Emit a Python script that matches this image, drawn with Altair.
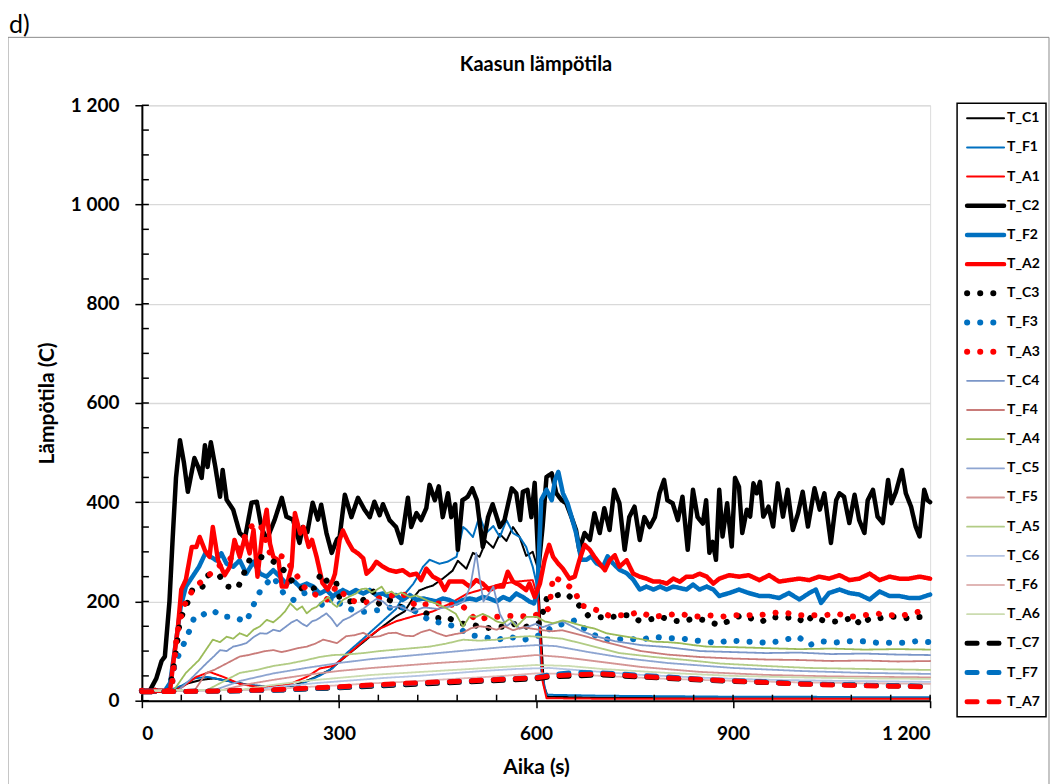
import altair as alt
import pandas as pd

SERIES = ["T_C1", "T_F1", "T_A1", "T_C2", "T_F2", "T_A2", "T_C3", "T_F3", "T_A3",
          "T_C4", "T_F4", "T_A4", "T_C5", "T_F5", "T_A5", "T_C6", "T_F6", "T_A6",
          "T_C7", "T_F7", "T_A7"]

COLORS = ["#000000", "#0070c0", "#ff0000", "#000000", "#0070c0", "#ff0000",
          "#000000", "#0070c0", "#ff0000",
          "#7b96c8", "#c97b79", "#9bbb59",
          "#8ea5d1", "#d49594", "#b2cc85",
          "#b4c4e3", "#e0b6b5", "#cbdcb0",
          "#000000", "#0070c0", "#ff0000"]

T_C1 = [(0, 20), (30, 20), (50, 22), (70, 35), (90, 42), (110, 45), (130, 40), (150, 35), (170, 30),
        (200, 28), (230, 30), (260, 45), (286, 62), (311, 90), (337, 118), (362, 145), (387, 170),
        (400, 180), (412, 205), (422, 222), (433, 228), (443, 232), (458, 246), (473, 262), (481, 282),
        (494, 266), (504, 298), (514, 290), (524, 322), (535, 308), (545, 336), (555, 322), (565, 350),
        (575, 330), (585, 292), (595, 300), (602, 270), (607, 150), (612, 30), (618, 8), (700, 6),
        (800, 5), (900, 5), (1000, 5), (1100, 5), (1200, 5)]
T_F1 = [(0, 20), (40, 20), (60, 30), (80, 45), (100, 48), (130, 40), (160, 32), (200, 28), (240, 32),
        (270, 50), (290, 65), (311, 95), (337, 125), (362, 155), (387, 185), (400, 215), (413, 235),
        (422, 255), (428, 270), (438, 284), (453, 276), (465, 280), (479, 290), (489, 350), (494, 345),
        (504, 330), (514, 372), (524, 338), (535, 352), (545, 330), (555, 364), (565, 338), (575, 330),
        (585, 310), (595, 270), (602, 230), (608, 60), (616, 12), (700, 10), (800, 9), (900, 8),
        (1000, 8), (1100, 7), (1200, 7)]
T_A1 = [(0, 20), (50, 20), (62, 28), (83, 48), (103, 58), (124, 48), (149, 34), (175, 28), (200, 28),
        (226, 34), (251, 48), (271, 65), (291, 70), (311, 90), (337, 120), (362, 145), (387, 160),
        (413, 170), (443, 180), (468, 195), (494, 215), (520, 225), (545, 235), (570, 240), (595, 243),
        (604, 200), (610, 40), (616, 5), (700, 4), (900, 4), (1200, 4)]
T_C2 = [(0, 20), (12, 20), (22, 45), (30, 80), (35, 89), (42, 200), (47, 330), (52, 450), (58, 525),
        (64, 480), (70, 421), (80, 489), (86, 470), (91, 449), (96, 515), (100, 471), (105, 521),
        (112, 470), (119, 411), (123, 465), (129, 405), (139, 385), (149, 338), (157, 328), (167, 399),
        (175, 401), (182, 350), (190, 324), (202, 364), (213, 409), (220, 371), (230, 365), (240, 318),
        (245, 350), (252, 340), (260, 399), (268, 365), (273, 395), (281, 338), (289, 298), (297, 325),
        (301, 330), (309, 415), (319, 370), (329, 409), (339, 385), (347, 370), (354, 401), (362, 374),
        (367, 396), (377, 364), (387, 350), (395, 318), (405, 409), (410, 350), (418, 378), (425, 364),
        (433, 388), (438, 435), (446, 404), (452, 432), (458, 370), (466, 418), (471, 370), (477, 396),
        (481, 304), (488, 404), (496, 411), (503, 428), (510, 404), (519, 310), (527, 370), (534, 396),
        (545, 350), (552, 364), (563, 428), (570, 418), (576, 364), (580, 421), (587, 425), (593, 370),
        (598, 439), (604, 270), (610, 350), (616, 451), (624, 458), (631, 418), (639, 404), (646, 398),
        (654, 370), (661, 344), (666, 304), (674, 338), (682, 324), (689, 378), (697, 338), (704, 388),
        (712, 344), (719, 425), (727, 398), (735, 304), (742, 370), (750, 391), (758, 324), (765, 370),
        (773, 350), (781, 370), (788, 418), (795, 445), (800, 404), (808, 398), (816, 364), (823, 411),
        (831, 304), (839, 425), (846, 370), (854, 357), (859, 404), (864, 298), (869, 320), (874, 284),
        (879, 425), (884, 331), (891, 398), (898, 311), (903, 449), (909, 431), (914, 338), (921, 385),
        (926, 371), (931, 438), (936, 418), (941, 441), (946, 371), (954, 391), (961, 351), (968, 438),
        (976, 371), (983, 425), (991, 344), (999, 378), (1006, 421), (1014, 351), (1024, 428),
        (1032, 385), (1039, 418), (1049, 318), (1057, 404), (1062, 418), (1069, 411), (1077, 358),
        (1085, 415), (1092, 364), (1100, 338), (1105, 404), (1113, 425), (1120, 371), (1128, 358),
        (1136, 445), (1141, 398), (1148, 421), (1157, 465), (1163, 418), (1171, 391), (1178, 351),
        (1184, 331), (1191, 425), (1196, 404), (1200, 400)]
T_F2 = [(0, 20), (35, 20), (43, 36), (53, 129), (59, 189), (67, 230), (77, 250), (87, 270), (97, 298),
        (105, 290), (113, 283), (121, 297), (129, 276), (139, 270), (149, 283), (159, 256), (170, 280),
        (180, 256), (190, 250), (200, 263), (210, 250), (220, 236), (230, 243), (240, 230), (251, 236),
        (261, 230), (271, 216), (281, 223), (291, 210), (296, 216), (306, 223), (316, 216), (326, 223),
        (337, 216), (347, 223), (357, 213), (367, 216), (377, 209), (387, 213), (397, 203), (408, 213),
        (418, 203), (428, 206), (438, 203), (448, 200), (458, 206), (468, 203), (479, 196), (489, 203),
        (499, 206), (509, 203), (519, 209), (529, 206), (540, 200), (550, 209), (560, 203), (570, 216),
        (580, 209), (590, 200), (597, 196), (602, 217), (608, 405), (616, 425), (624, 404), (629, 445),
        (634, 461), (641, 418), (648, 398), (654, 371), (661, 338), (669, 284), (677, 284), (684, 291),
        (692, 277), (702, 270), (709, 291), (717, 277), (727, 264), (738, 257), (748, 244), (758, 224),
        (768, 230), (779, 224), (789, 230), (799, 224), (809, 230), (819, 227), (829, 224), (839, 234),
        (849, 224), (860, 230), (870, 224), (879, 211), (894, 217), (909, 224), (924, 217), (940, 211),
        (955, 211), (970, 207), (985, 217), (1001, 204), (1016, 217), (1026, 224), (1034, 197),
        (1046, 217), (1062, 224), (1077, 217), (1092, 214), (1108, 204), (1123, 220), (1138, 211),
        (1153, 211), (1168, 207), (1184, 207), (1200, 214)]
T_A2 = [(0, 20), (43, 20), (47, 68), (55, 149), (60, 224), (67, 244), (76, 310), (83, 310), (88, 330),
        (96, 303), (103, 290), (108, 350), (116, 283), (126, 253), (134, 270), (141, 324), (149, 290),
        (157, 330), (164, 297), (170, 344), (176, 250), (184, 344), (190, 385), (195, 317), (200, 290),
        (208, 283), (213, 230), (220, 230), (228, 270), (233, 378), (241, 337), (246, 350), (254, 310),
        (259, 324), (266, 290), (275, 237), (283, 224), (291, 244), (294, 256), (301, 324), (306, 343),
        (314, 320), (321, 304), (329, 297), (337, 287), (342, 256), (350, 266), (357, 280), (367, 270),
        (377, 263), (387, 260), (397, 263), (408, 253), (418, 256), (425, 243), (433, 266), (443, 250),
        (453, 243), (461, 223), (468, 240), (478, 240), (489, 240), (499, 230), (509, 243), (519, 236),
        (529, 223), (540, 230), (550, 230), (557, 260), (565, 240), (575, 233), (585, 223), (590, 236),
        (598, 209), (606, 236), (613, 283), (620, 314), (626, 290), (634, 276), (641, 266), (651, 246),
        (659, 250), (666, 283), (674, 314), (682, 304), (689, 290), (697, 276), (705, 263), (712, 283),
        (720, 293), (727, 270), (738, 283), (748, 256), (758, 250), (768, 246), (779, 240), (789, 240),
        (799, 236), (809, 246), (819, 240), (829, 250), (839, 250), (849, 256), (860, 250), (870, 236),
        (879, 246), (894, 253), (909, 250), (924, 253), (940, 243), (955, 253), (970, 240), (985, 243),
        (1001, 246), (1016, 243), (1031, 250), (1046, 246), (1062, 253), (1077, 243), (1092, 246),
        (1108, 256), (1123, 243), (1138, 250), (1153, 246), (1168, 246), (1184, 250), (1200, 246)]
T_C3 = [(0, 20), (42, 20), (50, 80), (55, 130), (58, 163), (67, 189), (77, 224), (91, 225), (98, 250),
        (106, 257), (119, 250), (131, 230), (146, 227), (164, 284), (180, 290), (195, 284), (205, 277),
        (216, 263), (231, 237), (246, 224), (261, 224), (273, 257), (286, 233), (296, 237), (301, 206),
        (316, 200), (337, 203), (352, 220), (362, 193), (377, 203), (392, 190), (413, 183), (433, 176),
        (448, 166), (463, 169), (484, 156), (504, 153), (524, 146), (540, 149), (555, 149), (570, 156),
        (585, 149), (595, 156), (606, 156), (617, 209), (630, 212), (646, 216), (663, 196), (679, 172),
        (694, 169), (710, 166), (725, 172), (740, 172), (756, 162), (768, 162), (789, 169), (807, 162),
        (822, 159), (840, 166), (858, 162), (879, 152), (902, 166), (912, 172), (927, 166), (943, 159),
        (958, 169), (976, 166), (994, 169), (1012, 156), (1019, 169), (1037, 162), (1052, 159),
        (1070, 162), (1083, 169), (1095, 152), (1108, 166), (1123, 166), (1133, 169), (1148, 169),
        (1166, 166), (1187, 169), (1200, 168)]
T_F3 = [(0, 20), (45, 20), (48, 62), (55, 89), (62, 109), (73, 143), (80, 169), (88, 169), (100, 179),
        (108, 182), (123, 169), (139, 169), (159, 159), (172, 199), (182, 226), (200, 250), (216, 216),
        (231, 203), (246, 216), (261, 223), (276, 189), (291, 209), (306, 190), (321, 183), (337, 179),
        (362, 183), (387, 190), (413, 183), (438, 162), (458, 156), (479, 149), (499, 132), (519, 129),
        (540, 122), (560, 129), (580, 122), (606, 132), (626, 149), (659, 162), (677, 142), (697, 126),
        (717, 122), (738, 126), (758, 122), (779, 129), (799, 126), (819, 126), (839, 122), (860, 119),
        (876, 116), (894, 122), (914, 119), (932, 119), (955, 116), (976, 122), (999, 129), (1016, 112),
        (1034, 120), (1054, 117), (1075, 120), (1095, 120), (1118, 117), (1141, 117), (1164, 117),
        (1179, 120), (1200, 118)]
T_A3 = [(0, 20), (45, 20), (53, 129), (58, 163), (67, 200), (76, 220), (88, 237), (100, 250), (115, 270),
        (130, 280), (145, 300), (164, 350), (180, 357), (195, 297), (216, 290), (231, 263), (246, 230),
        (261, 216), (281, 203), (296, 230), (316, 203), (337, 196), (367, 209), (397, 216), (418, 190),
        (438, 196), (458, 196), (489, 190), (509, 162), (529, 169), (550, 169), (570, 172), (590, 169),
        (605, 175), (620, 186), (626, 250), (636, 243), (659, 223), (667, 193), (692, 183), (710, 172),
        (738, 172), (758, 179), (776, 169), (799, 172), (817, 176), (840, 169), (863, 172), (881, 169),
        (897, 172), (914, 172), (939, 172), (958, 176), (976, 179), (996, 172), (1021, 172), (1039, 172),
        (1057, 176), (1077, 169), (1098, 172), (1118, 176), (1136, 172), (1159, 172), (1182, 179),
        (1200, 172)]
T_C4 = [(0, 20), (55, 20), (73, 42), (98, 75), (110, 90), (119, 102), (129, 100), (139, 109), (149, 112),
        (159, 116), (170, 128), (180, 136), (190, 135), (200, 143), (210, 140), (220, 150), (228, 158),
        (236, 163), (244, 155), (251, 150), (259, 160), (266, 163), (274, 170), (281, 176), (289, 165),
        (297, 150), (306, 162), (316, 168), (326, 176), (337, 185), (347, 196), (357, 205), (367, 200),
        (377, 188), (392, 190), (410, 180), (430, 188), (450, 185), (470, 190), (490, 200), (500, 230),
        (509, 298), (515, 240), (520, 200), (528, 215), (535, 230), (545, 175), (555, 150), (565, 160),
        (575, 145), (590, 150), (600, 155), (610, 148), (625, 155), (640, 160), (655, 150), (670, 140),
        (690, 130), (720, 120), (760, 112), (800, 108), (850, 100), (900, 98), (950, 96), (1000, 97),
        (1050, 94), (1100, 95), (1150, 93), (1200, 92)]
T_F4 = [(0, 20), (80, 20), (98, 56), (110, 62), (123, 71), (136, 80), (149, 89), (162, 92), (175, 96),
        (188, 100), (200, 102), (213, 98), (226, 102), (238, 106), (251, 109), (264, 115), (276, 123),
        (286, 120), (297, 116), (311, 130), (324, 132), (337, 137), (350, 128), (362, 130), (375, 136),
        (387, 137), (400, 131), (413, 130), (425, 138), (438, 143), (450, 136), (463, 130), (476, 134),
        (489, 137), (501, 146), (514, 150), (527, 148), (540, 143), (552, 150), (565, 142), (580, 148),
        (595, 145), (610, 142), (625, 140), (640, 142), (660, 135), (680, 128), (700, 120), (730, 110),
        (760, 100), (800, 93), (850, 88), (900, 85), (950, 83), (1000, 82), (1050, 80), (1100, 81),
        (1150, 79), (1200, 80)]
T_A4 = [(0, 20), (48, 20), (67, 56), (87, 82), (108, 123), (119, 118), (129, 129), (139, 125), (149, 136),
        (160, 130), (170, 143), (180, 150), (190, 163), (200, 158), (210, 169), (218, 180), (226, 196),
        (236, 183), (244, 190), (251, 176), (259, 185), (266, 189), (275, 200), (284, 209), (291, 195),
        (297, 189), (306, 203), (316, 210), (326, 216), (334, 225), (342, 226), (350, 218), (357, 223),
        (365, 230), (372, 216), (380, 220), (387, 213), (395, 218), (408, 209), (418, 212), (428, 206),
        (438, 200), (448, 196), (458, 190), (468, 183), (478, 175), (489, 149), (499, 170), (509, 169),
        (519, 175), (529, 169), (540, 160), (550, 156), (560, 165), (570, 149), (585, 169), (601, 169),
        (613, 160), (626, 156), (641, 162), (660, 155), (677, 149), (690, 145), (707, 136), (720, 133),
        (738, 129), (760, 124), (779, 119), (800, 118), (819, 116), (840, 112), (860, 109), (900, 108),
        (950, 106), (1000, 104), (1050, 105), (1100, 103), (1150, 104), (1200, 103)]
T_C5 = [(0, 20), (110, 21), (150, 40), (200, 55), (250, 66), (300, 76), (350, 84), (400, 90), (450, 96),
        (500, 102), (550, 108), (600, 112), (630, 110), (680, 98), (740, 85), (800, 76), (900, 66),
        (1000, 60), (1100, 56), (1200, 54)]
T_F5 = [(0, 20), (120, 21), (160, 33), (200, 42), (250, 52), (300, 60), (350, 66), (400, 71), (450, 76),
        (500, 80), (550, 86), (600, 92), (640, 88), (700, 78), (760, 68), (850, 58), (950, 52),
        (1050, 49), (1200, 47)]
T_A5 = [(0, 20), (100, 22), (149, 56), (175, 62), (200, 70), (225, 75), (251, 82), (270, 88), (291, 92),
        (311, 93), (337, 96), (362, 100), (387, 103), (413, 106), (438, 109), (463, 115), (489, 123),
        (514, 121), (540, 123), (565, 128), (590, 130), (615, 128), (640, 125), (680, 112), (727, 96),
        (780, 88), (829, 82), (880, 75), (950, 70), (1016, 66), (1100, 64), (1200, 62)]
T_C6 = [(0, 20), (170, 22), (220, 30), (270, 36), (320, 41), (370, 46), (420, 50), (470, 55), (520, 60),
        (570, 64), (620, 66), (680, 60), (760, 52), (860, 46), (960, 42), (1060, 40), (1200, 38)]
T_F6 = [(0, 20), (190, 22), (240, 27), (300, 31), (350, 35), (400, 38), (450, 42), (500, 46), (550, 50),
        (600, 55), (650, 54), (700, 50), (800, 44), (900, 40), (1000, 37), (1100, 35), (1200, 34)]
T_A6 = [(0, 20), (150, 22), (200, 32), (250, 40), (300, 46), (350, 52), (400, 56), (450, 60), (500, 64),
        (550, 68), (600, 72), (650, 70), (700, 64), (800, 56), (900, 50), (1000, 47), (1100, 45),
        (1200, 44)]
T_C7 = [(0, 18), (100, 19), (200, 21), (300, 26), (400, 32), (500, 38), (600, 44), (620, 48), (700, 52),
        (800, 45), (900, 39), (1000, 34), (1100, 31), (1200, 28)]
T_F7 = [(0, 18), (100, 19), (200, 21), (300, 27), (400, 34), (500, 40), (600, 47), (620, 52), (660, 57),
        (700, 56), (750, 52), (800, 48), (864, 42), (950, 38), (1016, 34), (1100, 31), (1200, 29)]
T_A7 = [(0, 18), (100, 19), (200, 22), (300, 28), (400, 35), (500, 40), (560, 44), (600, 46), (612, 48),
        (620, 50), (650, 52), (700, 54), (750, 50), (800, 46), (864, 42), (950, 37), (1016, 33),
        (1100, 30), (1200, 28)]

ALL = [T_C1, T_F1, T_A1, T_C2, T_F2, T_A2, T_C3, T_F3, T_A3, T_C4, T_F4, T_A4,
       T_C5, T_F5, T_A5, T_C6, T_F6, T_A6, T_C7, T_F7, T_A7]

X_LABELS = [0, 300, 600, 900, 1200]
Y_LABELS = [0, 200, 400, 600, 800, 1000, 1200]
X_MINOR = list(range(0, 1201, 60))
Y_MINOR = list(range(0, 1201, 50))

# styles per series
WIDTHS = [2, 2, 2, 4.5, 4.5, 4.5, 6, 6, 6, 1.8, 1.8, 1.8, 1.8, 1.8, 1.8, 1.8, 1.8, 1.8, 5, 5, 5]
SOLID = [1, 0]
DOT = [0.1, 13]
DASH = [10, 12]
DASHES = [SOLID] * 6 + [DOT] * 3 + [SOLID] * 9 + [DASH] * 3

rows = []
for name, pts in zip(SERIES, ALL):
    for t, v in pts:
        rows.append({"series": name, "t": t, "v": v})
df = pd.DataFrame(rows)
legdf = pd.DataFrame({"series": SERIES})

W, H = 789, 596
FONT = "Lato"
xscale = alt.Scale(domain=[0, 1200], nice=False, zero=False)
yscale = alt.Scale(domain=[0, 1200], nice=False)
cscale = alt.Scale(domain=SERIES, range=COLORS)
wscale = alt.Scale(type="ordinal", domain=SERIES, range=WIDTHS)
dscale = alt.Scale(domain=SERIES, range=DASHES)

fmt = "replace(format(datum.value, ','), ',', ' ')"

XAXIS = alt.Axis(
    values=X_LABELS, labelExpr=fmt, title="Aika (s)", grid=False,
    tickSize=7, tickColor="#000000", tickWidth=1.5, domainColor="#000000", domainWidth=2,
    labelFont=FONT, labelFontWeight="bold", labelFontSize=19, labelColor="#000000",
    labelPadding=17, titleFont=FONT, titleFontWeight="bold", titleFontSize=21,
    titleColor="#000000", titleY=56, titleX=W / 2)
YAXIS = alt.Axis(
    values=Y_LABELS, labelExpr=fmt, title="Lämpötila (C)", grid=True,
    gridColor="#d9d9d9", gridWidth=1.3,
    tickSize=7, tickColor="#000000", tickWidth=1.5, domainColor="#000000", domainWidth=2,
    labelFont=FONT, labelFontWeight="bold", labelFontSize=19, labelColor="#000000",
    labelPadding=16, titleFont=FONT, titleFontWeight="bold", titleFontSize=21,
    titleColor="#000000", titleX=-84, titleY=H / 2)

lines = alt.Chart(df).mark_line(strokeCap="round", strokeJoin="round").encode(
    x=alt.X("t:Q", scale=xscale, axis=XAXIS),
    y=alt.Y("v:Q", scale=yscale, axis=YAXIS),
    color=alt.Color("series:N", scale=cscale, legend=None),
    strokeWidth=alt.StrokeWidth("series:N", scale=wscale, legend=None),
    strokeDash=alt.StrokeDash("series:N", scale=dscale, legend=None),
    order=alt.Order("t:Q"),
)

xt = alt.Chart(pd.DataFrame({"tv": X_MINOR})).mark_rule(color="#000000", strokeWidth=1.5).encode(
    x=alt.X("tv:Q", scale=xscale, axis=XAXIS), y=alt.value(H), y2=alt.value(H - 6))
yt = alt.Chart(pd.DataFrame({"tv": Y_MINOR})).mark_rule(color="#000000", strokeWidth=1.5).encode(
    y=alt.Y("tv:Q", scale=yscale, axis=None), x=alt.value(0), x2=alt.value(7))

# legend built from the series list
legy = alt.Y("series:N", scale=alt.Scale(type="point", domain=SERIES, range=[13, 597], padding=0),
             axis=None)
legbox = alt.Chart(pd.DataFrame({"k": [0]})).mark_rect(
    fillOpacity=0, stroke="#000000", strokeWidth=1.5).encode(
    x=alt.value(816), x2=alt.value(905), y=alt.value(-2), y2=alt.value(612))
legsym = alt.Chart(legdf).mark_rule(strokeCap="round").encode(
    y=legy, x=alt.value(826), x2=alt.value(863),
    color=alt.Color("series:N", scale=cscale, legend=None),
    strokeWidth=alt.StrokeWidth("series:N", scale=wscale, legend=None),
    strokeDash=alt.StrokeDash("series:N", scale=dscale, legend=None),
)
legtxt = alt.Chart(legdf).mark_text(
    font=FONT, fontWeight="bold", fontSize=14, color="#000000", align="left", baseline="middle"
).encode(y=legy, x=alt.value(866), text="series:N")

one = pd.DataFrame({"k": [0]})
frame = alt.Chart(one).mark_rect(fillOpacity=0, stroke="#8c8c8c", strokeWidth=1).encode(
    x=alt.value(-134), x2=alt.value(908), y=alt.value(-68), y2=alt.value(720))
title = alt.Chart(pd.DataFrame({"s": ["Kaasun lämpötila"]})).mark_text(
    font=FONT, fontWeight="bold", fontSize=20, color="#000000", baseline="middle", align="center"
).encode(x=alt.value(W / 2), y=alt.value(-40), text="s:N")
tag = alt.Chart(pd.DataFrame({"s": ["d)"]})).mark_text(
    font=FONT, fontSize=25, color="#000000", baseline="middle", align="left"
).encode(x=alt.value(-133), y=alt.value(-80), text="s:N")

chart = alt.layer(frame, lines, xt, yt, legbox, legsym, legtxt, title, tag).resolve_scale(
    y="independent"
).properties(
    width=W, height=H,
    autosize=alt.AutoSizeParams(type="none"),
    padding={"left": 134, "top": 97, "right": 120, "bottom": 83},
).configure_view(stroke="#000000", strokeWidth=2).configure(background="#ffffff")

chart.save("out.html", embed_options={"renderer": "svg", "actions": False})
